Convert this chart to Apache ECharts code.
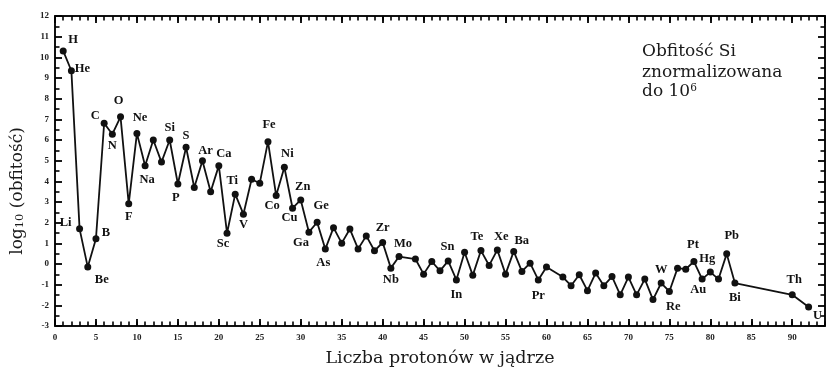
<!DOCTYPE html>
<html>
<head>
<meta charset="utf-8">
<script src="https://cdn.jsdelivr.net/npm/echarts@6/dist/echarts.min.js"></script>
<style>html,body{margin:0;padding:0;background:#fff}#c{width:828px;height:372px}</style>
</head>
<body>
<div id="c"></div>
<script>
// Atomic numbers (Z) of plotted elements
const protonNumbers = [1,2,3,4,5,6,7,8,9,10,11,12,13,14,15,16,17,18,19,20,21,22,23,24,25,26,27,28,29,30,
  31,32,33,34,35,36,37,38,39,40,41,42,44,45,46,47,48,49,50,51,52,53,54,55,56,57,58,59,60,
  62,63,64,65,66,67,68,69,70,71,72,73,74,75,76,77,78,79,80,81,82,83,90,92];
const elementSymbols = ['H','He','Li','Be','B','C','N','O','F','Ne','Na','Mg','Al','Si','P','S','Cl','Ar','K','Ca',
  'Sc','Ti','V','Cr','Mn','Fe','Co','Ni','Cu','Zn','Ga','Ge','As','Se','Br','Kr','Rb','Sr','Y','Zr','Nb','Mo',
  'Ru','Rh','Pd','Ag','Cd','In','Sn','Sb','Te','I','Xe','Cs','Ba','La','Ce','Pr','Nd',
  'Sm','Eu','Gd','Tb','Dy','Ho','Er','Tm','Yb','Lu','Hf','Ta','W','Re','Os','Ir','Pt','Au','Hg','Tl','Pb','Bi','Th','U'];
// log10 abundance (Si = 10^6)
const logAbundance = [10.31,9.35,1.70,-0.15,1.22,6.81,6.28,7.12,2.91,6.32,4.75,6.00,4.93,6.00,3.87,5.65,3.70,5.00,3.50,4.76,
  1.49,3.38,2.41,4.10,3.91,5.92,3.31,4.68,2.70,3.10,1.54,2.02,0.72,1.76,1.01,1.69,0.73,1.36,0.64,1.04,-0.20,0.36,
  0.24,-0.49,0.12,-0.33,0.15,-0.77,0.57,-0.55,0.65,-0.07,0.68,-0.49,0.61,-0.36,0.04,-0.77,-0.15,
  -0.63,-1.05,-0.52,-1.29,-0.44,-1.05,-0.61,-1.49,-0.63,-1.49,-0.73,-1.72,-0.92,-1.33,-0.20,-0.25,0.12,-0.73,-0.39,-0.73,0.49,-0.92,-1.49,-2.08];
const xTickLabels = [0,5,10,15,20,25,30,35,40,45,50,55,60,65,70,75,80,85,90];
const yTickLabels = [-3,-2,-1,0,1,2,3,4,5,6,7,8,9,10,11,12];
const xAxisTitle = 'Liczba protonów w jądrze';
const yAxisTitle = ['log', '10', ' (obfitość)'];
const noteLines = ['Obfitość Si', 'znormalizowana', 'do 10', '6'];

// label placement (style only): offset of label centre from point centre, px
const labelOffsets = {
  H:[10,-11], He:[11,-2], Li:[-14,-6], Be:[14,13], B:[10,-6], C:[-9,-7], N:[0,12], O:[-2,-16], F:[0,13],
  Ne:[3,-16], Na:[2,14], Si:[0,-12], P:[-2,14], S:[0,-11], Ar:[3,-10], Ca:[5,-12], Sc:[-4,11], Ti:[-3,-13],
  V:[0,11], Fe:[1,-17], Co:[-4,10], Ni:[3,-14], Cu:[-3,10], Zn:[2,-13], Ga:[-8,11], Ge:[4,-16], As:[-2,14],
  Zr:[0,-15], Nb:[0,12], Mo:[4,-13], Sn:[-17,-5], In:[0,15], Te:[-4,-14], Xe:[4,-13], Ba:[8,-11], Pr:[0,16],
  W:[0,-13], Re:[4,15], Pt:[-1,-17], Hg:[-3,-13], Au:[-4,11], Pb:[5,-18], Bi:[0,15], Th:[2,-15], U:[9,9]
};

const ink = '#111';
const txt = '#1a1a1a';
const seriesData = protonNumbers.map((z, i) => {
  const sym = elementSymbols[i];
  const item = { name: sym, value: [z, logAbundance[i]] };
  if (labelOffsets[sym]) {
    item.label = { show: true, position: 'inside', offset: labelOffsets[sym], formatter: sym,
      fontFamily: 'Liberation Serif', fontWeight: 'bold', fontSize: 12.5, color: ink,
      align: 'center', verticalAlign: 'middle' };
  }
  return item;
});

const tickFont = { fontFamily: 'Liberation Serif', fontWeight: 'bold', fontSize: 9, color: '#222' };
const xMin = xTickLabels[0], xMax = 94, yMin = yTickLabels[0], yMax = yTickLabels[yTickLabels.length-1];

function xAx(pos, major, labels) {
  return {
    type: 'value', position: pos, min: xMin, max: xMax, interval: major ? 5 : 1,
    axisLine: { show: major, onZero: false, lineStyle: { color: ink, width: 2 } },
    axisTick: { show: true, inside: true, length: major ? 7 : 4.5, lineStyle: { color: '#000', width: major ? 1.8 : 1.6 } },
    axisLabel: labels ? Object.assign({ show: true, margin: 7, showMaxLabel: false,
      formatter: v => xTickLabels.indexOf(v) >= 0 ? String(v) : '' }, tickFont) : { show: false },
    splitLine: { show: false }
  };
}
function yAx(pos, labels) {
  return {
    type: 'value', position: pos, min: yMin, max: yMax, interval: 1,
    axisLine: { show: true, onZero: false, lineStyle: { color: ink, width: 2 } },
    axisTick: { show: true, inside: true, length: 7, lineStyle: { color: '#000', width: 1.8 } },
    minorTick: { show: true, splitNumber: 2, length: 4.5, lineStyle: { color: '#000', width: 1.6 } },
    axisLabel: labels ? Object.assign({ show: true, margin: 6 }, tickFont) : { show: false },
    splitLine: { show: false }
  };
}

const xs = [xAx('bottom', true, true), xAx('bottom', false, false), xAx('top', true, false), xAx('top', false, false)];
xs[0].name = xAxisTitle;
xs[0].nameLocation = 'middle';
xs[0].nameGap = 23;
xs[0].nameTextStyle = { fontFamily: 'DejaVu Serif', fontSize: 17.5, color: txt };

const ys = [yAx('left', true), yAx('right', false)];
ys[0].name = '{m|' + yAxisTitle[0] + '}{s|' + yAxisTitle[1] + '}{m|' + yAxisTitle[2] + '}';
ys[0].nameLocation = 'middle';
ys[0].nameRotate = 90;
ys[0].nameGap = 29;
ys[0].nameTextStyle = { fontFamily: 'DejaVu Serif', fontSize: 17, color: txt, padding: [0, 40, 0, 0],
  rich: { m: { fontFamily: 'DejaVu Serif', fontSize: 17, lineHeight: 22, color: txt, verticalAlign: 'bottom' },
          s: { fontFamily: 'DejaVu Serif', fontSize: 11.5, lineHeight: 9, color: txt, verticalAlign: 'bottom' } } };

const chart = echarts.init(document.getElementById('c'));
chart.setOption({
  animation: false,
  title: {
    left: 642, top: 41, padding: 0,
    text: noteLines[0] + '\n' + noteLines[1] + '\n{m|' + noteLines[2] + '}{p|' + noteLines[3] + '}',
    textStyle: {
      fontFamily: 'DejaVu Serif', fontSize: 17, fontWeight: 'normal', lineHeight: 21, color: txt,
      rich: { m: { fontFamily: 'DejaVu Serif', fontSize: 17, lineHeight: 21, color: txt, verticalAlign: 'top' },
              p: { fontFamily: 'DejaVu Serif', fontSize: 10.5, lineHeight: 8, color: txt, verticalAlign: 'top' } }
    }
  },
  grid: { left: 55, right: 3, top: 16, bottom: 46 },
  xAxis: xs,
  yAxis: ys,
  series: [{
    type: 'line',
    data: seriesData,
    symbol: 'circle', symbolSize: 7,
    lineStyle: { color: ink, width: 1.8 },
    itemStyle: { color: ink },
    label: { show: false }
  }]
});
</script>
</body>
</html>
